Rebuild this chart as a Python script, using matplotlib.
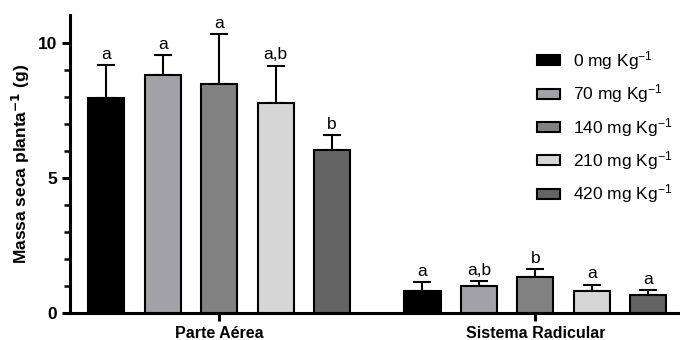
import matplotlib
matplotlib.use('Agg')
import matplotlib.pyplot as plt
from matplotlib.patches import Patch
import numpy as np

plt.rcParams['font.family'] = ['Liberation Sans', 'DejaVu Sans']
plt.rcParams['mathtext.default'] = 'regular'

groups = ['Parte Aérea', 'Sistema Radicular']
doses = ['0 mg Kg$^{-1}$', '70 mg Kg$^{-1}$', '140 mg Kg$^{-1}$',
         '210 mg Kg$^{-1}$', '420 mg Kg$^{-1}$']
colors = ['#000000', '#a2a2a6', '#818181', '#d6d6d6', '#646464']

means = [
    [7.97, 8.80, 8.48, 7.77, 6.04],   # Parte Aérea
    [0.83, 1.01, 1.34, 0.83, 0.68],   # Sistema Radicular
]
errs = [
    [1.22, 0.76, 1.85, 1.39, 0.55],
    [0.31, 0.18, 0.30, 0.23, 0.18],
]
letters = [
    ['a', 'a', 'a', 'a,b', 'b'],
    ['a', 'a,b', 'b', 'a', 'a'],
]

group_x = [0.0, 5.6]
offsets = np.arange(5) - 2
width = 0.64

fig = plt.figure(figsize=(6.8, 3.4), dpi=100)
ax = fig.add_axes([0.103, 0.079, 0.897, 0.877])

for g, gx in enumerate(group_x):
    xs = gx + offsets
    ax.bar(xs, means[g], width=width, color=colors, edgecolor='black', lw=1.5, zorder=3)
    ax.errorbar(xs, means[g], yerr=[np.zeros(5), errs[g]], fmt='none',
                ecolor='black', elinewidth=1.5, capsize=6.5, capthick=1.5, zorder=2)
    for x, m, e, lab in zip(xs, means[g], errs[g], letters[g]):
        ax.text(x, m + e + 0.12, lab, ha='center', va='bottom', fontsize=12.5)

ax.set_xlim(-2.64, 8.16)
ax.set_ylim(0, 11.04)
ax.set_xticks(group_x)
ax.set_xticklabels(groups, fontweight='bold', fontsize=11.5)
ax.set_yticks([0, 5, 10])
ax.set_yticks(np.arange(0, 11, 1), minor=True)
for lbl in ax.get_yticklabels():
    lbl.set_fontweight('bold')
    lbl.set_fontsize(12.5)
ax.set_ylabel('Massa seca planta$^{\\mathbf{-1}}$ (g)', fontweight='bold', fontsize=12.5)

for s in ['top', 'right']:
    ax.spines[s].set_visible(False)
for s in ['left', 'bottom']:
    ax.spines[s].set_linewidth(2.2)
ax.tick_params(axis='both', which='major', width=2.2, length=6)
ax.tick_params(axis='y', which='minor', width=1.8, length=4)

handles = [Patch(facecolor=c, edgecolor='black', lw=1.5) for c in colors]
ax.legend(handles, doses, loc='upper left', bbox_to_anchor=(0.765, 0.885),
          frameon=False, fontsize=12.5, handlelength=1.32, handleheight=0.5,
          labelspacing=0.6, handletextpad=0.75, borderpad=0, borderaxespad=0)

fig.savefig('out.png', dpi=100)
